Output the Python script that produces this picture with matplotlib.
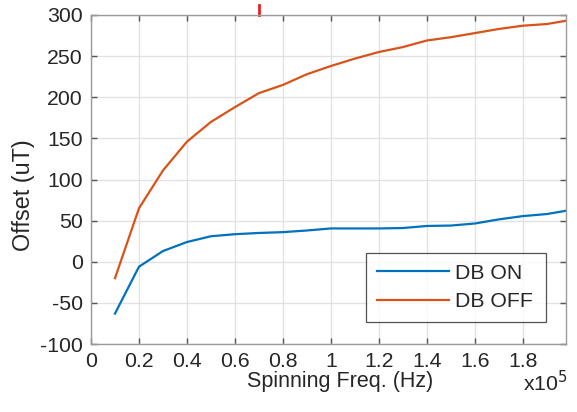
import matplotlib
matplotlib.use("Agg")
import matplotlib.pyplot as plt

plt.rcParams['font.family'] = ['Liberation Sans', 'DejaVu Sans']
plt.rcParams['axes.unicode_minus'] = False

# Spinning frequency in units of 1e5 Hz
freq = [0.1, 0.2, 0.3, 0.4, 0.5, 0.6, 0.7, 0.8, 0.9, 1.0, 1.1, 1.2, 1.3,
        1.4, 1.5, 1.6, 1.7, 1.8, 1.9, 1.98]
db_on = [-63, -6, 13, 24, 31, 33.5, 35, 36, 38, 40.5, 40.5, 40.5, 41,
         43.5, 44, 46.5, 51.5, 55.5, 58, 62]
db_off = [-20, 65, 111, 146, 170, 188, 205, 215, 228, 238, 247, 255, 261,
          269, 273, 278, 283, 287, 289, 293]

xticks = [0, 0.2, 0.4, 0.6, 0.8, 1.0, 1.2, 1.4, 1.6, 1.8]
xtick_labels = ['0', '0.2', '0.4', '0.6', '0.8', '1', '1.2', '1.4', '1.6', '1.8']
yticks = [-100, -50, 0, 50, 100, 150, 200, 250, 300]

blue = '#0072BD'
orange = '#D95319'
ink = '#262626'

fig = plt.figure(figsize=(5.77, 4.12), dpi=100)
ax = fig.add_axes([91 / 577, 1 - 344 / 412, (566 - 91) / 577, (344 - 15) / 412])

ax.plot(freq, db_on, color=blue, lw=1.6, label='DB ON')
ax.plot(freq, db_off, color=orange, lw=1.6, label='DB OFF')

ax.set_xlim(0, 1.98)
ax.set_ylim(-100, 300)
ax.set_xticks(xticks)
ax.set_xticklabels(xtick_labels)
ax.set_yticks(yticks)

ax.grid(True, color='#e2e2e2', lw=1.0)
ax.set_axisbelow(True)
for s in ax.spines.values():
    s.set_color('#9a9a9a')
    s.set_linewidth(1.0)
ax.tick_params(direction='in', length=4, width=1.0, color='#555555',
               labelsize=15.3, labelcolor=ink, top=True, right=True, pad=6)

ax.set_xlabel('Spinning Freq. (Hz)', fontsize=15.5, color=ink, labelpad=2)
ax.xaxis.set_label_coords(0.524, -0.083, transform=ax.transAxes)
ax.xaxis.label.set_va('top')
ax.set_ylabel('Offset (uT)', fontsize=16.8, color=ink, labelpad=2)
ax.yaxis.set_label_coords(-0.118, 0.453, transform=ax.transAxes)

ax.text(1.004, -0.116, r'x10$^{5}$', transform=ax.transAxes, ha='right',
        va='center', fontsize=15.3, color=ink)

# Small red marker above the top edge at 0.7
ax.plot([0.7, 0.7], [1.0, 1.03], color='#e8202a', lw=2,
        transform=ax.get_xaxis_transform(), clip_on=False)

leg = ax.legend(loc='lower left', bbox_to_anchor=(0.579, 0.067, 0.379, 0.22),
                mode='expand', fontsize=15.3, frameon=True, fancybox=False,
                handlelength=3.4, handletextpad=0.3, borderpad=0.5,
                labelspacing=0.45, borderaxespad=0)
leg.get_frame().set_edgecolor(ink)
leg.get_frame().set_linewidth(0.9)
for t in leg.get_texts():
    t.set_color(ink)

fig.savefig('out.png', dpi=100)
